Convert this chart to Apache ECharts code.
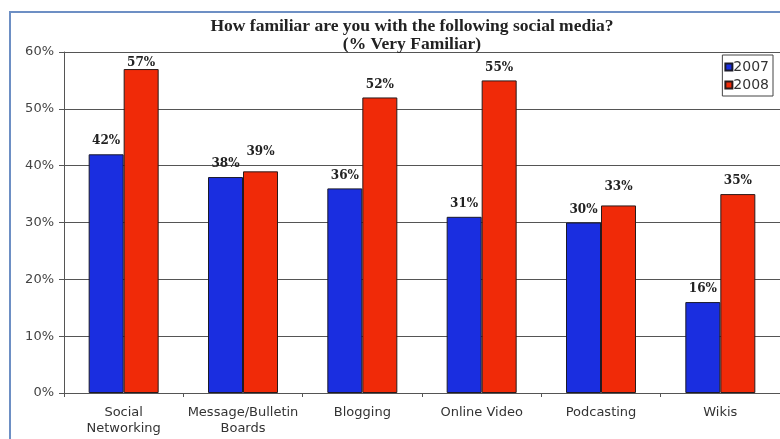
<!DOCTYPE html>
<html>
<head>
<meta charset="utf-8">
<script src="https://cdn.jsdelivr.net/npm/echarts@6/dist/echarts.min.js"></script>
<style>
  html, body { margin: 0; padding: 0; background: #fff; }
  #chart { width: 780px; height: 439px; }
</style>
</head>
<body>
<div id="chart"></div>
<script>
// Social media familiarity survey, share answering "very familiar"
const categories = ['Social\nNetworking', 'Message/Bulletin\nBoards', 'Blogging', 'Online Video', 'Podcasting', 'Wikis'];
const values2007 = [42, 38, 36, 31, 30, 16];
const values2008 = [57, 39, 52, 55, 33, 35];
const seriesNames = ['2007', '2008'];

const chart = echarts.init(document.getElementById('chart'));

const sansFont = '"DejaVu Sans", Verdana, sans-serif';
const serifFont = '"Liberation Serif", "Times New Roman", serif';

// Gap between a bar top and its value label; a few labels sit higher or lower
const baseLabelGap = 7;
const labelGapTweaks2008 = { 0: -7, 1: 6, 4: 6 };

function valueLabel(gap) {
  return {
    show: true,
    position: 'top',
    distance: gap,
    formatter: '{c}%',
    fontFamily: '"DejaVu Serif", serif',
    fontWeight: 'bold',
    fontSize: 12,
    color: '#222'
  };
}

function barData(values, tweaks) {
  return values.map((v, i) => (
    tweaks && tweaks[i] !== undefined
      ? { value: v, label: valueLabel(baseLabelGap + tweaks[i]) }
      : v
  ));
}

chart.setOption({
  backgroundColor: '#ffffff',
  animation: false,
  graphic: [{
    type: 'rect',
    shape: { x: 10, y: 12, width: 800, height: 440 },
    style: { fill: 'none', stroke: '#6d8fc4', lineWidth: 2 },
    z: -1
  }],
  title: {
    text: 'How familiar are you with the following social media?\n(% Very Familiar)',
    left: 407,
    top: 12,
    textAlign: 'center',
    textStyle: {
      fontFamily: serifFont,
      fontWeight: 'bold',
      fontSize: 17.5,
      lineHeight: 18.5,
      color: '#222'
    }
  },
  legend: {
    data: seriesNames,
    orient: 'vertical',
    right: 7,
    top: 55,
    itemWidth: 7,
    itemHeight: 7,
    itemGap: 4,
    icon: 'rect',
    padding: [5, 4, 4, 2],
    backgroundColor: '#fff',
    borderColor: '#444',
    borderWidth: 1,
    borderRadius: 0,
    textStyle: {
      fontFamily: sansFont,
      fontSize: 14,
      color: '#333',
      padding: [0, 0, 0, -4]
    }
  },
  grid: {
    left: 64,
    top: 52,
    width: 730,
    bottom: 46,
    containLabel: false
  },
  xAxis: {
    type: 'category',
    data: categories,
    axisLine: { lineStyle: { color: '#555', width: 1 } },
    axisTick: { show: true, length: 4, alignWithLabel: false, lineStyle: { color: '#555' } },
    axisLabel: {
      fontFamily: sansFont,
      fontSize: 13,
      color: '#333',
      lineHeight: 16,
      margin: 12,
      interval: 0
    }
  },
  yAxis: {
    type: 'value',
    min: 0,
    max: 60,
    interval: 10,
    axisLine: { show: true, lineStyle: { color: '#555', width: 1 } },
    axisTick: { show: true, length: 5, inside: false, lineStyle: { color: '#555' } },
    splitLine: { show: true, lineStyle: { color: '#555', width: 1 } },
    axisLabel: {
      formatter: '{value}%',
      fontFamily: sansFont,
      fontSize: 13,
      color: '#444',
      margin: 10
    }
  },
  series: [
    {
      name: seriesNames[0],
      type: 'bar',
      data: barData(values2007),
      barWidth: 35,
      barGap: '0%',
      itemStyle: { color: '#1a2ee0', borderColor: '#1a1a2a', borderWidth: 1 },
      label: valueLabel(baseLabelGap)
    },
    {
      name: seriesNames[1],
      type: 'bar',
      data: barData(values2008, labelGapTweaks2008),
      barWidth: 35,
      barGap: '0%',
      itemStyle: { color: '#f02a08', borderColor: '#2a1a1a', borderWidth: 1 },
      label: valueLabel(baseLabelGap)
    }
  ]
});
</script>
</body>
</html>
